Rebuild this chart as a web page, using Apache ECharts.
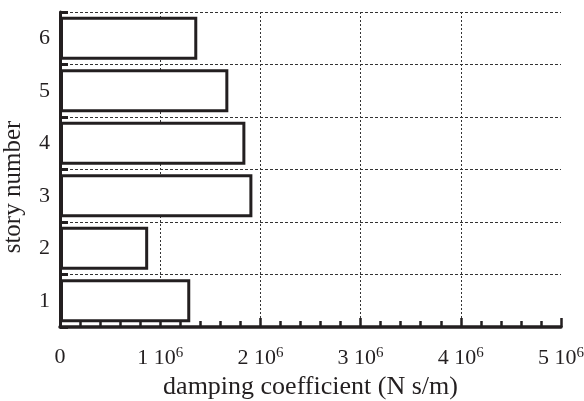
<!DOCTYPE html>
<html>
<head>
<meta charset="utf-8">
<script src="https://cdn.jsdelivr.net/npm/echarts@6/dist/echarts.min.js"></script>
<style>html,body{margin:0;padding:0;background:#fff}#c{width:584px;height:401px}</style>
</head>
<body>
<div id="c"></div>
<script>
const stories = ['1', '2', '3', '4', '5', '6'];
const damping = [1.30e6, 0.88e6, 1.92e6, 1.85e6, 1.68e6, 1.37e6];
const xTicks = [0, 1e6, 2e6, 3e6, 4e6, 5e6];
const xTitle = 'damping coefficient (N s/m)';
const yTitle = 'story number';

const font = 'Liberation Serif';
const ink = '#231f20';
const chart = echarts.init(document.getElementById('c'));
chart.setOption({
  animation: false,
  backgroundColor: '#fff',
  grid: { left: 60, right: 23, top: 12, bottom: 74, containLabel: false, outerBoundsMode: 'none' },
  graphic: [{
    type: 'text', x: 13, y: 187, rotation: Math.PI / 2,
    style: { text: yTitle, fontFamily: font, fontSize: 25, fill: ink, align: 'center', verticalAlign: 'middle' }
  }],
  xAxis: {
    type: 'value', min: xTicks[0], max: xTicks[xTicks.length - 1], interval: 1e6,
    name: xTitle, nameLocation: 'middle', nameGap: 45,
    nameTextStyle: { fontFamily: font, fontSize: 26, color: ink },
    axisLine: { show: true, lineStyle: { color: ink, width: 3.5 } },
    axisTick: { show: true, inside: true, length: 9, lineStyle: { color: ink, width: 2.5 } },
    minorTick: { show: true, splitNumber: 5, length: 6, lineStyle: { color: ink, width: 2.5 } },
    splitLine: { show: true, showMinLine: false, showMaxLine: false, lineStyle: { color: '#333', width: 1, type: [2, 2] } },
    axisLabel: {
      margin: 19, fontFamily: font, fontSize: 22, color: ink,
      formatter: v => v === 0 ? '0' : (v / 1e6) + ' 10{sup|6}',
      rich: { sup: { fontFamily: font, fontSize: 15, color: ink, padding: [0, 0, 10, 0] } }
    }
  },
  yAxis: {
    type: 'category', data: stories,
    axisLine: { show: true, lineStyle: { color: ink, width: 3 } },
    axisTick: { show: true, inside: true, length: 8, lineStyle: { color: ink, width: 3 } },
    splitLine: { show: true, lineStyle: { color: '#333', width: 1, type: [3, 2] } },
    axisLabel: { margin: 10, fontFamily: font, fontSize: 22, color: ink }
  },
  series: [{
    type: 'bar', data: damping, barCategoryGap: '18%',
    itemStyle: { color: '#fff', borderColor: ink, borderWidth: 3 }
  }]
});
</script>
</body>
</html>
